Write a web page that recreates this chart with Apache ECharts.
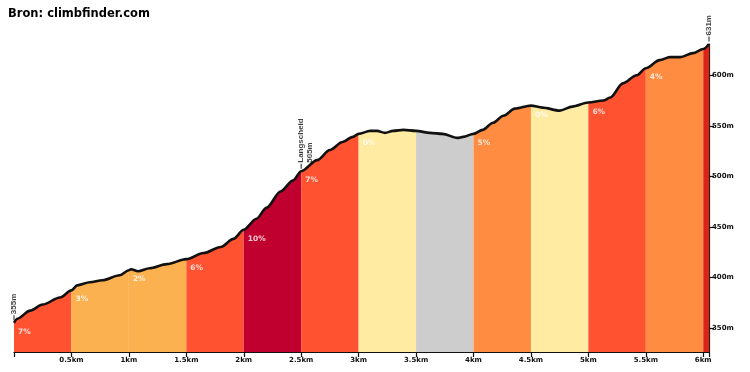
<!DOCTYPE html>
<html><head><meta charset="utf-8">
<script src="https://cdn.jsdelivr.net/npm/echarts@6/dist/echarts.min.js"></script>
<style>html,body{margin:0;padding:0;background:#fff}#c{width:750px;height:372px}</style>
</head><body><div id="c"></div>
<script>
// Elevation profile (distance in km, elevation in m)
const profileKm = [0, 0.03, 0.14, 0.25, 0.40, 0.50, 0.55, 0.66, 0.77, 0.92, 1.00, 1.02, 1.08, 1.18, 1.33, 1.50,
  1.65, 1.80, 1.91, 2.00, 2.11, 2.20, 2.32, 2.43, 2.50, 2.64, 2.75, 2.86, 2.95, 3.00, 3.10, 3.16, 3.23, 3.30,
  3.39, 3.50, 3.62, 3.73, 3.86, 3.91, 4.00, 4.08, 4.17, 4.26, 4.36, 4.50, 4.60, 4.75, 4.86, 5.00, 5.13, 5.19,
  5.30, 5.42, 5.50, 5.62, 5.71, 5.80, 5.91, 6.00, 6.05];
const profileElev = [355, 359, 367, 373, 380, 387, 392, 395, 397, 402, 407, 408, 406, 409, 413, 418,
  424, 430, 438, 447, 458, 469, 485, 496, 505, 516, 526, 534, 539, 542, 545, 545, 543, 545,
  546, 545, 543, 542, 538, 539, 542, 546, 553, 560, 567, 570, 568, 565, 569, 573, 575, 578,
  592, 600, 607, 615, 618, 618, 622, 626, 631];

// Gradient segments
const segStartKm = [0, 0.5, 1, 1.5, 2, 2.5, 3, 3.5, 4, 4.5, 5, 5.5, 6];
const segEndKm   = [0.5, 1, 1.5, 2, 2.5, 3, 3.5, 4, 4.5, 5, 5.5, 6, 6.05];
const segGrade   = ['7%', '3%', '2%', '6%', '10%', '7%', '0%', '', '5%', '0%', '6%', '4%', ''];
const segColor   = ['#FF5230', '#FCB150', '#FCB150', '#FF5230', '#C0002E', '#FF5230', '#FFEBA2',
                    '#CDCDCD', '#FF8C40', '#FFEBA2', '#FF5230', '#FF8C40', '#DD2218'];

// Axes
const xTickKm  = [0, 0.5, 1, 1.5, 2, 2.5, 3, 3.5, 4, 4.5, 5, 5.5, 6, 6.05];
const xLabelKm = [0.5, 1, 1.5, 2, 2.5, 3, 3.5, 4, 4.5, 5, 5.5, 6];
const yTickM   = [350, 400, 450, 500, 550, 600];

// Annotations
const annotKm   = [0, 2.5, 6.05];
const annotElev = [355, 505, 631];
const annotText = ['355m', 'Langscheid\n505m', '631m'];

const FONT = 'Liberation Sans';
const AXFONT = 'DejaVu Sans';
const eps = 1e-9;
function elevAt(km) {
  for (let i = 0; i < profileKm.length; i++) if (Math.abs(profileKm[i] - km) < eps) return profileElev[i];
  return null;
}
const allPts = profileKm.map((k, i) => [k, profileElev[i]]);
const series = [];
segStartKm.forEach((s, i) => {
  const e = segEndKm[i];
  series.push({
    type: 'line', data: allPts.filter(p => p[0] >= s - eps && p[0] <= e + eps),
    showSymbol: false, smooth: 0.3, smoothMonotone: 'x', silent: true,
    lineStyle: { width: 0 }, areaStyle: { color: segColor[i], opacity: 1, origin: 'start' }, z: 2
  });
});
series.push({
  type: 'line', data: allPts, showSymbol: false, smooth: 0.3, smoothMonotone: 'x', silent: true,
  lineStyle: { color: '#111', width: 2.6 }, z: 5
});
series.push({
  type: 'scatter', symbolSize: 0, silent: true, z: 6,
  data: segStartKm.map((s, i) => ({ value: [s, elevAt(s)], label: { formatter: segGrade[i] } })),
  label: { show: true, position: [4, 5], align: 'left', verticalAlign: 'top', color: '#fff',
    fontFamily: 'DejaVu Sans', fontWeight: 'bold', fontSize: 7.5 }
});
series.push({
  type: 'scatter', symbol: 'rect', symbolSize: [1.2, 5], symbolOffset: [0, -5], silent: true, z: 7,
  itemStyle: { color: '#111' },
  data: annotKm.map((k, i) => ({ value: [k, annotElev[i]],
    label: { formatter: annotText[i], offset: i === 1 ? [0, 4] : [0, 0] } })),
  label: { show: true, position: 'top', distance: 1, rotate: 90, align: 'left', verticalAlign: 'middle',
    color: '#111', fontFamily: FONT, fontWeight: 'bold', fontSize: 8, lineHeight: 9 }
});

const chart = echarts.init(document.getElementById('c'), null, { renderer: 'canvas' });
chart.setOption({
  animation: false,
  backgroundColor: '#fff',
  title: { text: 'Bron: climbfinder.com', left: 8, top: 8, padding: 0,
    textStyle: { fontFamily: 'DejaVu Sans', fontWeight: 'bold', fontSize: 11.5, color: '#000' } },
  grid: { left: 14, right: 41, top: 44, bottom: 20 },
  xAxis: {
    type: 'value', min: 0, max: 6.05, splitLine: { show: false },
    axisLine: { onZero: false, lineStyle: { color: '#111', width: 1.2 } },
    axisTick: { customValues: xTickKm, length: 5, lineStyle: { color: '#111', width: 1.2 } },
    axisLabel: { customValues: xLabelKm, formatter: v => v + 'km', margin: 5, color: '#111',
      fontFamily: AXFONT, fontWeight: 'bold', fontSize: 7 }
  },
  yAxis: {
    type: 'value', position: 'right', min: 326, max: 631, splitLine: { show: false },
    axisLine: { show: true, onZero: false, lineStyle: { color: '#222', width: 1.2 } },
    axisTick: { show: true, customValues: yTickM, length: 5, lineStyle: { color: '#111', width: 1.2 } },
    axisLabel: { customValues: yTickM, formatter: v => v + 'm', margin: 3, color: '#111',
      fontFamily: AXFONT, fontWeight: 'bold', fontSize: 7 }
  },
  series: series
});
</script></body></html>
